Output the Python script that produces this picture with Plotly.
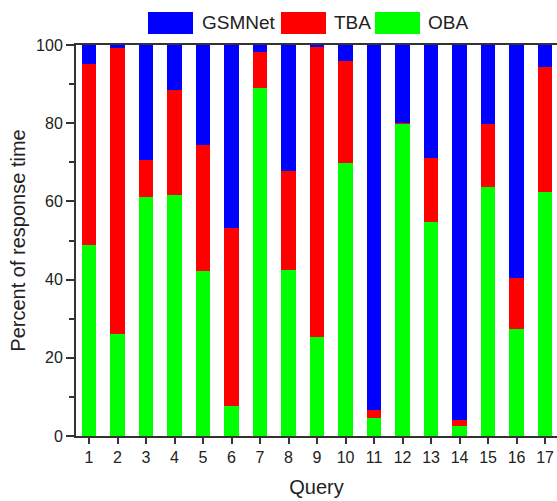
import plotly.graph_objects as go

queries = [str(i) for i in range(1, 18)]
oba = [48.8, 26.1, 61.1, 61.7, 42.2, 7.8, 89.0, 42.4, 25.4, 69.9, 4.5, 79.8, 54.7, 2.6, 63.6, 27.3, 62.3]
tba = [46.4, 73.2, 9.4, 26.9, 32.2, 45.5, 9.2, 25.3, 74.3, 26.1, 2.2, 0.2, 16.4, 1.5, 16.1, 13.2, 32.2]
gsmnet = [4.8, 0.7, 29.5, 11.4, 25.6, 46.7, 1.8, 32.3, 0.3, 4.0, 93.3, 20.0, 28.9, 95.9, 20.3, 59.5, 5.5]

series = [("OBA", oba, "#00ff00"), ("TBA", tba, "#ff0000"), ("GSMNet", gsmnet, "#0000ff")]
xs = list(range(1, 18))

fig = go.Figure()
for name, vals, col in series:
    fig.add_trace(go.Bar(x=xs, y=vals, name=name, marker=dict(color=col, line=dict(width=0)),
                         width=0.5, showlegend=False))

FONT = "Liberation Sans, Arial, sans-serif"
fig.update_layout(
    barmode="stack",
    width=557, height=501,
    margin=dict(l=76, r=0, t=45, b=65),
    plot_bgcolor="white", paper_bgcolor="white",
    font=dict(family=FONT, color="#222222"),
    xaxis=dict(range=[0.544, 17.42], tickmode="array", tickvals=xs, ticktext=queries,
               ticks="outside", ticklen=6, tickwidth=2, tickcolor="#333333",
               showline=True, linewidth=2, linecolor="#333333", mirror=True,
               showgrid=False, zeroline=False, tickfont=dict(size=16),
               title=dict(text="Query", font=dict(size=20), standoff=15)),
    yaxis=dict(range=[0, 100], tickmode="array", tickvals=[0, 20, 40, 60, 80, 100],
               ticks="outside", ticklen=8, tickwidth=2, tickcolor="#333333",
               minor=dict(tickvals=[10, 30, 50, 70, 90], ticks="outside", ticklen=5,
                          tickwidth=2, tickcolor="#333333"),
               showline=True, linewidth=2, linecolor="#333333",
               showgrid=False, zeroline=False, tickfont=dict(size=16),
               title=dict(text="Percent of response time", font=dict(size=20), standoff=5)),
)

# custom legend (positions in window pixels, converted to paper coords)
legend_items = [("GSMNet", "#0000ff", 148, 200), ("TBA", "#ff0000", 281, 332), ("OBA", "#00ff00", 375, 426)]
for name, col, x0, tx in legend_items:
    fig.add_shape(type="rect", xref="paper", yref="paper",
                  x0=(x0 - 76) / 481, x1=(x0 + 45 - 76) / 481,
                  y0=(436 - 34) / 391, y1=(436 - 12) / 391,
                  fillcolor=col, line=dict(width=0))
    fig.add_annotation(text=name, xref="paper", yref="paper", x=(tx - 76) / 481,
                       y=(436 - 23) / 391, xanchor="left", yanchor="middle",
                       showarrow=False, font=dict(size=19, color="#222222"))

# remove the default page margin so the figure fills the window exactly
fig.write_html("out.html", config={"displayModeBar": False},
               post_script="document.body.style.margin='0';document.body.style.overflow='hidden';")
